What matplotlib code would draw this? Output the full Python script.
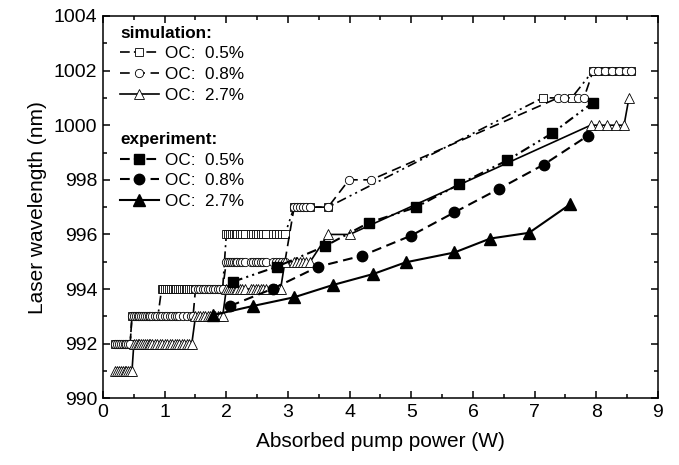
import matplotlib
matplotlib.use("Agg")
import matplotlib.pyplot as plt
from matplotlib.ticker import MultipleLocator

plt.rcParams['font.family'] = ['Liberation Sans', 'DejaVu Sans']
plt.rcParams['lines.scale_dashes'] = False

# ---------------- data ----------------
# simulation, OC 0.5 % (open squares): wavelength levels and the pump powers at each level
sim05_levels = [992, 993, 994, 996, 997, 1001, 1002]
sim05_x = [
    [0.20, 0.23, 0.26, 0.29, 0.32, 0.35, 0.38, 0.41, 0.44],
    [0.47, 0.50, 0.53, 0.56, 0.59, 0.62, 0.65, 0.68, 0.71, 0.74, 0.77, 0.80, 0.83, 0.86, 0.89],
    [0.95, 0.98, 1.01, 1.04, 1.07, 1.10, 1.13, 1.16, 1.19, 1.22, 1.25, 1.28, 1.31, 1.34, 1.37,
     1.40, 1.43, 1.46, 1.50, 1.54, 1.58, 1.62, 1.66, 1.70, 1.74, 1.78, 1.82, 1.86, 1.90, 1.94],
    [2.00, 2.03, 2.06, 2.09, 2.12, 2.15, 2.18, 2.22, 2.26, 2.30,
     2.40, 2.44, 2.48, 2.52, 2.56, 2.60, 2.64,
     2.75, 2.80, 2.85, 2.90, 2.95],
    [3.10, 3.15, 3.20, 3.25, 3.30, 3.36, 3.65],
    [7.13, 7.60],
    [7.95, 8.03, 8.14, 8.26, 8.37, 8.48, 8.56],
]

# simulation, OC 0.8 % (open circles)
sim08_levels = [992, 993, 994, 995, 997, 998, 1001, 1002]
sim08_x = [
    [0.20, 0.23, 0.26, 0.29, 0.32, 0.35, 0.38, 0.41, 0.44],
    [0.47, 0.50, 0.53, 0.56, 0.59, 0.62, 0.65, 0.68, 0.71, 0.74, 0.77, 0.80, 0.84,
     0.88, 0.92, 0.96, 1.00, 1.04, 1.08, 1.12, 1.16, 1.20, 1.24, 1.30, 1.36, 1.42, 1.46],
    [1.50, 1.54, 1.58, 1.62, 1.66, 1.70, 1.74, 1.78, 1.82, 1.86, 1.90, 1.94],
    [2.00, 2.03, 2.06, 2.09, 2.12, 2.15, 2.18, 2.22, 2.26, 2.30,
     2.40, 2.44, 2.48, 2.52, 2.56, 2.60, 2.64,
     2.75, 2.80, 2.85, 2.90, 2.95],
    [3.10, 3.15, 3.20, 3.25, 3.30, 3.36, 3.65],
    [3.99, 4.35],
    [7.38, 7.48, 7.70, 7.80],
    [7.95, 8.03, 8.14, 8.26, 8.37, 8.48, 8.56],
]

# simulation, OC 2.7 % (open triangles)
sim27_levels = [991, 992, 993, 994, 995, 996, 1000, 1001]
sim27_x = [
    [0.20, 0.23, 0.26, 0.29, 0.32, 0.35, 0.38, 0.41, 0.44, 0.47],
    [0.50, 0.53, 0.56, 0.59, 0.62, 0.65, 0.68, 0.71, 0.74, 0.77, 0.80, 0.84, 0.88, 0.92,
     0.96, 1.00, 1.04, 1.08, 1.12, 1.16, 1.20, 1.24, 1.28, 1.32, 1.36, 1.40, 1.44],
    [1.50, 1.54, 1.58, 1.62, 1.66, 1.70, 1.74, 1.78, 1.82, 1.86, 1.90, 1.94],
    [2.00, 2.03, 2.06, 2.09, 2.12, 2.15, 2.18, 2.22, 2.26, 2.30,
     2.40, 2.44, 2.48, 2.52, 2.56, 2.60, 2.64,
     2.75, 2.80, 2.85, 2.88],
    [2.95, 3.10, 3.15, 3.20, 3.25, 3.30, 3.36],
    [3.65, 4.00],
    [7.91, 8.05, 8.18, 8.32, 8.45],
    [8.53],
]

# experiment
exp05_x = [2.11, 2.82, 3.60, 4.31, 5.07, 5.78, 6.56, 7.28, 7.94]
exp05_y = [994.27, 994.82, 995.57, 996.43, 996.99, 997.84, 998.72, 999.70, 1000.82]

exp08_x = [2.06, 2.76, 3.49, 4.20, 4.99, 5.70, 6.43, 7.15, 7.86]
exp08_y = [993.38, 994.02, 994.82, 995.22, 995.95, 996.81, 997.68, 998.56, 999.61]

exp27_x = [1.79, 2.43, 3.10, 3.73, 4.38, 4.91, 5.70, 6.28, 6.91, 7.58]
exp27_y = [993.05, 993.38, 993.70, 994.15, 994.55, 994.98, 995.34, 995.85, 996.06, 997.11]

legend_labels = ['OC:  0.5%', 'OC:  0.8%', 'OC:  2.7%']


def flatten(levels, xs):
    X, Y = [], []
    for lev, xl in zip(levels, xs):
        X.extend(xl)
        Y.extend([lev] * len(xl))
    return X, Y


# ---------------- figure ----------------
fig = plt.figure(figsize=(6.79, 4.65), dpi=100)
ax = fig.add_axes([0.1517, 0.1434, 0.8173, 0.8223])

ls05 = (0, (7, 3, 1.5, 3, 1.5, 3))
ls08 = (0, (7, 4))
ls27 = '-'

sx, sy = flatten(sim05_levels, sim05_x)
h_s05, = ax.plot(sx, sy, linestyle=ls05, color='black', lw=1.2, marker='s', ms=5.5,
                 mfc='white', mec='black', mew=0.6)
sx, sy = flatten(sim08_levels, sim08_x)
h_s08, = ax.plot(sx, sy, linestyle=ls08, color='black', lw=1.2, marker='o', ms=6,
                 mfc='white', mec='black', mew=0.6)
sx, sy = flatten(sim27_levels, sim27_x)
h_s27, = ax.plot(sx, sy, linestyle=ls27, color='black', lw=1.2, marker='^', ms=7,
                 mfc='white', mec='black', mew=0.6)

h_e05, = ax.plot(exp05_x, exp05_y, linestyle=ls05, color='black', lw=1.5, marker='s', ms=7)
h_e08, = ax.plot(exp08_x, exp08_y, linestyle=ls08, color='black', lw=1.5, marker='o', ms=7.5)
h_e27, = ax.plot(exp27_x, exp27_y, linestyle=ls27, color='black', lw=1.5, marker='^', ms=8.5)

ax.set_xlim(0, 9)
ax.set_ylim(990, 1004)
ax.xaxis.set_major_locator(MultipleLocator(1))
ax.xaxis.set_minor_locator(MultipleLocator(0.5))
ax.yaxis.set_major_locator(MultipleLocator(2))
ax.yaxis.set_minor_locator(MultipleLocator(1))
ax.tick_params(which='both', direction='in', top=True, right=True, labelsize=14, width=1.1)
ax.tick_params(which='major', length=5, pad=4)
ax.tick_params(which='minor', length=3)
for sp in ax.spines.values():
    sp.set_linewidth(1.1)

ax.set_xlabel('Absorbed pump power (W)', fontsize=15, labelpad=8)
ax.set_ylabel('Laser wavelength (nm)', fontsize=15, labelpad=5)

leg_kw = dict(loc='upper left', frameon=False, fontsize=12.3, handlelength=2.25,
              handletextpad=0.35, labelspacing=0.34, borderpad=0, borderaxespad=0,
              alignment='left', title_fontproperties={'weight': 'bold', 'size': 12.3})
leg1 = ax.legend([h_s05, h_s08, h_s27], legend_labels, title='simulation:',
                 bbox_to_anchor=(0.031, 0.975), **leg_kw)
ax.add_artist(leg1)
leg2 = ax.legend([h_e05, h_e08, h_e27], legend_labels, title='experiment:',
                 bbox_to_anchor=(0.031, 0.697), **leg_kw)

fig.savefig('out.png', dpi=100)
